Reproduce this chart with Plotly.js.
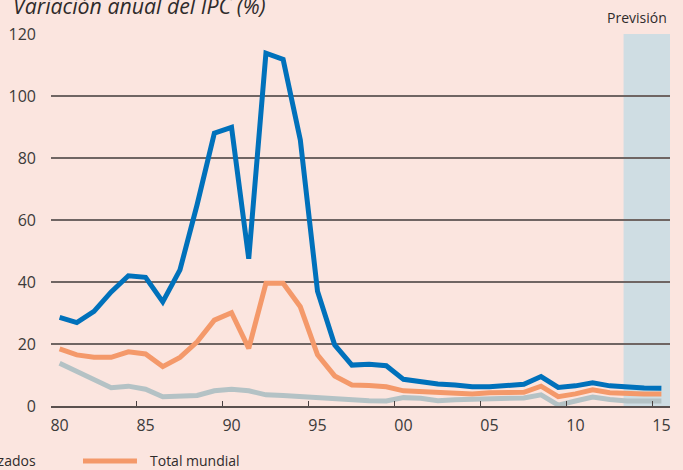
<!DOCTYPE html>
<html>
<head>
<meta charset="utf-8">
<script src="https://cdn.plot.ly/plotly-3.0.1.min.js"></script>
<style>html,body{margin:0;padding:0;background:#fbe5df;}#chart{width:683px;height:470px;}</style>
</head>
<body>
<div id="chart"></div>
<script>
var years = [1980,1981,1982,1983,1984,1985,1986,1987,1988,1989,1990,1991,1992,1993,1994,1995,1996,1997,1998,1999,2000,2001,2002,2003,2004,2005,2006,2007,2008,2009,2010,2011,2012,2013,2014,2015];
var emergentes = [28.6,26.9,30.5,36.8,42.0,41.5,33.6,43.9,65.0,88.0,89.9,47.5,113.8,111.8,85.8,37.0,19.7,13.2,13.5,13.0,8.6,7.8,7.1,6.8,6.2,6.2,6.5,7.0,9.5,6.0,6.5,7.5,6.5,6.0,5.8,5.7];
var mundial = [18.4,16.5,15.7,15.7,17.5,16.8,12.7,15.7,20.7,27.7,30.1,18.6,39.6,39.6,32.0,16.5,9.7,6.8,6.6,6.2,4.9,4.6,4.1,4.1,3.9,4.3,4.3,4.4,6.4,3.0,3.9,5.2,4.3,4.0,3.9,3.9];
var industrializados = [13.8,11.1,8.4,5.9,6.4,5.4,3.0,3.2,3.4,4.9,5.4,4.9,3.6,3.4,3.0,2.8,2.6,2.2,1.7,1.6,2.7,2.5,1.7,2.0,2.2,2.5,2.5,2.6,3.6,0.3,1.6,2.9,2.1,1.6,1.6,1.6];
var tickYears = [1980,1985,1990,1995,2000,2005,2010,2015];
var tickLabels = ['80','85','90','95','00','05','10','15'];
var yTicks = [0,20,40,60,80,100,120];
var forecastStart = 2012.8;
var seriesNames = ['Países emergentes','Total mundial','Países industrializados'];

var traces = [
  {x: years, y: industrializados, name: seriesNames[2], type: 'scatter', mode: 'lines', xaxis: 'x2',
   line: {color: '#b4c2c5', width: 5}},
  {x: years, y: mundial, name: seriesNames[1], type: 'scatter', mode: 'lines',
   line: {color: '#f4996a', width: 5}},
  {x: years, y: emergentes, name: seriesNames[0], type: 'scatter', mode: 'lines',
   line: {color: '#0071bb', width: 5}}
];

var font = 'Open Sans, Noto Sans, sans-serif';
var xRange = [1979.5, 2015.5];
var layout = {
  width: 683, height: 470,
  margin: {l: 51, r: 13, t: 34, b: 64},
  paper_bgcolor: '#fbe5df',
  plot_bgcolor: '#fbe5df',
  showlegend: false,
  font: {family: font, size: 16, color: '#3c3a3a'},
  xaxis: {
    range: xRange,
    tickvals: tickYears,
    ticktext: tickLabels,
    ticks: '',
    ticklabelstandoff: 8,
    showgrid: false, zeroline: false, showline: false,
    tickfont: {family: font, size: 16, color: '#3c3a3a'}
  },
  xaxis2: {
    range: xRange,
    overlaying: 'x',
    side: 'bottom',
    anchor: 'y',
    tickvals: tickYears.map(function(v){return v - 0.5;}),
    showticklabels: false,
    ticks: 'inside', ticklen: 5, tickwidth: 1, tickcolor: '#4a4140',
    showgrid: false, zeroline: false,
    showline: true, linecolor: '#5a504e', linewidth: 2
  },
  yaxis: {
    range: [0, 120],
    tickvals: yTicks,
    ticks: '', showline: false, zeroline: false,
    showgrid: true, gridcolor: '#6f6563', gridwidth: 1.2,
    ticklabelstandoff: 14,
    tickfont: {family: font, size: 16, color: '#3c3a3a'}
  },
  shapes: [
    {type: 'rect', xref: 'x', yref: 'y', x0: forecastStart, x1: 2015.6, y0: 0, y1: 120,
     fillcolor: '#cfdde3', line: {width: 0}, layer: 'below'},
    {type: 'line', xref: 'paper', yref: 'paper', x0: 0.0517, x1: 0.1389, y0: -0.1478, y1: -0.1478,
     line: {color: '#f4996a', width: 5}}
  ],
  annotations: [
    {text: 'Variación anual del IPC (%)', xref: 'paper', yref: 'paper', x: -0.0646, y: 1.0755,
     xanchor: 'left', yanchor: 'middle', showarrow: false,
     font: {family: font, size: 21.3, color: '#2f2b2b', style: 'italic'}},
    {text: 'Previsión', xref: 'paper', yref: 'paper', x: 0.9984, y: 1.0444,
     xanchor: 'right', yanchor: 'middle', showarrow: false,
     font: {family: font, size: 14, color: '#2f2b2b'}},
    {text: 'Países industrializados', xref: 'paper', yref: 'paper', x: -0.0210, y: -0.1478,
     xanchor: 'right', yanchor: 'middle', showarrow: false,
     font: {family: font, size: 14, color: '#2f2b2b'}},
    {text: 'Total mundial', xref: 'paper', yref: 'paper', x: 0.1567, y: -0.1478,
     xanchor: 'left', yanchor: 'middle', showarrow: false,
     font: {family: font, size: 14, color: '#2f2b2b'}}
  ]
};

Plotly.newPlot('chart', traces, layout, {displayModeBar: false, staticPlot: true});
</script>
</body>
</html>
